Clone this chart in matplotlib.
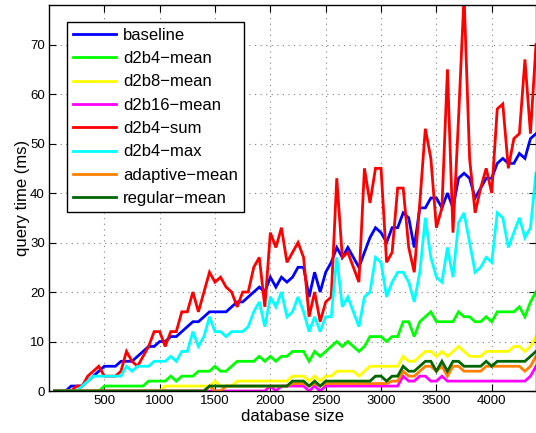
import numpy as np
import matplotlib
matplotlib.use('Agg')
import matplotlib.pyplot as plt

# database sizes (x), every 50 from 50 to 4400
sizes = list(range(50, 4401, 50))

baseline = [0, 0, 0, 1, 1, 1, 2, 3, 4, 5, 5, 5, 6, 6, 6, 7, 8, 9, 9, 10,
            10, 11, 11, 12, 13, 14, 14, 15, 16, 16, 16, 16, 17, 18, 18, 19, 20, 21, 20, 23,
            21, 23, 22, 23, 25, 25, 19, 24, 20, 24, 26, 29, 27, 29, 27, 25, 28, 31, 33, 32,
            30, 33, 33, 36, 35, 29, 37, 37, 39, 39, 37, 40, 37, 43, 44, 43, 39, 41, 43, 43,
            46, 47, 46, 46, 48, 47, 51, 52]

d2b4_mean = [0, 0, 0, 0, 0, 0, 0, 0, 0, 1, 1, 1, 1, 1, 1, 1, 1, 2, 2, 2,
             2, 3, 2, 3, 3, 3, 4, 4, 4, 5, 4, 4, 5, 6, 6, 6, 6, 7, 6, 7,
             6, 7, 7, 8, 8, 8, 6, 8, 7, 8, 9, 10, 9, 10, 9, 8, 9, 11, 11, 11,
             10, 11, 11, 14, 14, 11, 14, 15, 16, 14, 14, 14, 14, 16, 15, 15, 14, 14, 15, 14,
             16, 16, 16, 16, 17, 15, 18, 20]

d2b8_mean = [0, 0, 0, 0, 0, 0, 0, 0, 0, 0, 0, 0, 0, 0, 0, 0, 0, 0, 0, 0,
             1, 1, 1, 1, 1, 1, 1, 1, 1, 2, 1, 1, 1, 2, 2, 2, 2, 2, 2, 2,
             2, 2, 2, 3, 3, 3, 2, 3, 2, 3, 3, 4, 4, 4, 4, 3, 4, 5, 5, 5,
             5, 5, 5, 7, 6, 6, 7, 8, 8, 7, 8, 7, 8, 9, 8, 7, 7, 7, 8, 8,
             8, 8, 8, 9, 9, 8, 9, 11]

d2b16_mean = [0, 0, 0, 0, 0, 0, 0, 0, 0, 0, 0, 0, 0, 0, 0, 0, 0, 0, 0, 0,
              0, 0, 0, 0, 0, 0, 0, 0, 0, 0, 0, 0, 0, 0, 0, 0, 0, 0, 0, 1,
              0, 1, 1, 1, 1, 1, 0, 1, 0, 1, 1, 1, 1, 1, 1, 1, 1, 1, 1, 1,
              1, 1, 1, 3, 2, 2, 3, 3, 2, 2, 3, 2, 2, 2, 2, 2, 2, 2, 2, 2,
              2, 2, 2, 2, 2, 2, 3, 5]

d2b4_sum = [0, 0, 0, 0, 1, 1, 3, 4, 5, 3, 3, 3, 4, 8, 6, 5, 7, 9, 12, 12,
            9, 12, 12, 16, 16, 20, 16, 20, 24, 22, 23, 21, 20, 17, 20, 20, 25, 27, 17, 32,
            29, 33, 26, 28, 30, 27, 15, 20, 14, 18, 19, 43, 27, 28, 25, 22, 45, 38, 45, 45,
            26, 28, 41, 41, 29, 24, 38, 53, 47, 33, 37, 65, 32, 55, 80, 47, 36, 41, 45, 40,
            57, 58, 45, 51, 52, 67, 52, 70]

d2b4_max = [0, 0, 0, 0, 0, 1, 2, 3, 3, 3, 3, 3, 3, 5, 4, 5, 5, 5, 6, 6,
            6, 7, 6, 8, 8, 12, 9, 11, 15, 12, 12, 11, 12, 12, 12, 13, 16, 18, 13, 19,
            17, 20, 15, 16, 19, 16, 12, 15, 12, 15, 15, 27, 17, 19, 16, 13, 19, 20, 27, 26,
            19, 22, 24, 24, 22, 18, 24, 35, 27, 23, 22, 29, 23, 34, 36, 30, 24, 25, 27, 26,
            36, 35, 29, 32, 35, 31, 33, 44]

adaptive_mean = [0, 0, 0, 0, 0, 0, 0, 0, 0, 0, 0, 0, 0, 0, 0, 0, 0, 0, 0, 0,
                 0, 0, 0, 0, 0, 0, 0, 0, 1, 0, 0, 1, 1, 1, 1, 1, 1, 1, 1, 1,
                 1, 1, 1, 1.5, 1.5, 1.5, 1, 1.5, 1, 1.5, 1.5, 1.5, 1.5, 1.5, 1.5, 1.5, 1.5, 1.5, 1.5, 1.5,
                 1.5, 2, 2, 4, 3, 3, 4, 5, 5, 4, 5, 3, 5, 5, 4, 4, 4, 4, 5, 5,
                 5, 5, 5, 5, 5, 4, 5, 7]

regular_mean = [0, 0, 0, 0, 0, 0, 0, 0, 0, 0, 0, 0, 0, 0, 0, 0, 0, 0, 0, 0,
                0, 0, 0, 0, 0, 0, 0, 0, 1, 1, 1, 1, 1, 1, 1, 1, 1, 1, 1, 1,
                1, 1, 1, 2, 2, 2, 1, 2, 1, 2, 2, 2, 2, 2, 2, 2, 2, 2, 3, 3,
                2, 3, 3, 5, 4, 4, 5, 6, 6, 4, 6, 4, 6, 6, 5, 5, 5, 5, 6, 5,
                6, 6, 6, 6, 6, 6, 7, 8]

series = [
    ('baseline', baseline, (0, 0, 1)),
    ('d2b4\u2212mean', d2b4_mean, (0, 1, 0)),
    ('d2b8\u2212mean', d2b8_mean, (1, 1, 0)),
    ('d2b16\u2212mean', d2b16_mean, (1, 0, 1)),
    ('d2b4\u2212sum', d2b4_sum, (1, 0, 0)),
    ('d2b4\u2212max', d2b4_max, (0, 1, 1)),
    ('adaptive\u2212mean', adaptive_mean, (1, 0.5, 0)),
    ('regular\u2212mean', regular_mean, (0, 0.4, 0)),
]

plt.rcParams['font.family'] = ['Liberation Sans', 'DejaVu Sans']

fig = plt.figure(figsize=(5.36, 4.33), dpi=100)
ax = fig.add_axes([49 / 536, 1 - 391 / 433, 487 / 536, 386 / 433])

for name, vals, col in series:
    ax.plot(sizes, vals, color=col, linewidth=2.0, label=name, solid_joinstyle='miter')

ax.set_xlim(0, 4400)
ax.set_ylim(0, 78)
ax.set_xticks([500, 1000, 1500, 2000, 2500, 3000, 3500, 4000])
ax.set_yticks([0, 10, 20, 30, 40, 50, 60, 70])
ax.grid(True, color='0.5', linestyle=(0, (1, 4)), linewidth=0.8)
ax.tick_params(direction='in', top=True, right=True, length=5, width=0.8,
               labelsize=9.5, pad=3)
for sp in ax.spines.values():
    sp.set_linewidth(1.0)

ax.set_xlabel('database size', fontsize=12, labelpad=1)
ax.set_ylabel('query time (ms)', fontsize=12, labelpad=0)

leg = ax.legend(loc='upper left', bbox_to_anchor=(0.0376, 0.956), borderaxespad=0,
                fontsize=12, fancybox=False, framealpha=1, edgecolor='black',
                handlelength=2.6, handletextpad=0.4, labelspacing=0.5, borderpad=0.35)
leg.get_frame().set_linewidth(1.0)

fig.savefig('out.png', dpi=100)
